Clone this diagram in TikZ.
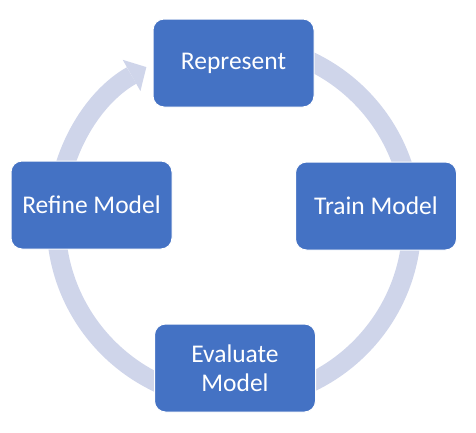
\documentclass[tikz,border=0pt]{standalone}
\usepackage{fontspec}
\setmainfont{Carlito}
\usepackage{xcolor}
\usepackage{tikz}
\usetikzlibrary{arrows.meta}
\definecolor{boxblue}{HTML}{4472C4}
\definecolor{ringgray}{HTML}{CFD5EA}

\begin{document}
\begin{tikzpicture}[x=1pt,y=-1pt,
                stagebox/.style={rectangle, rounded corners=11, fill=boxblue, draw=white, line width=1pt,
                    minimum width=161, minimum height=88, text=white, align=center,
                    font=\fontsize{25.5}{28.5}\selectfont}]
                \useasboundingbox (0,0) rectangle (476,432);
                
                % Cycle ring (drawn behind the stages)
                \coordinate (ringc) at (234,222);
                \draw[ringgray, line width=19, -{Triangle[length=17pt,width=36pt,line width=0pt]}] (ringc) ++(-90:178) arc[start angle=-90, end angle=240.5, radius=178];
                
                % Stages
                \node[stagebox] (represent) at (233.5,63) {Represent};
                \node[stagebox] (train) at (376,206) {Train Model};
                \node[stagebox] (evaluate) at (235,368) {Evaluate\\Model};
                \node[stagebox] (refine) at (91.5,205) {Refine Model};
            \end{tikzpicture}
\end{document}
